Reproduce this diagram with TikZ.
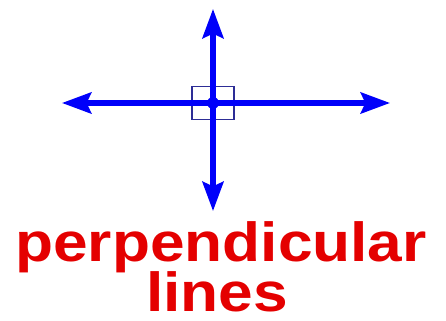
\documentclass[tikz,border=0pt]{standalone}
\usepackage{fontspec}
\setmainfont{Liberation Sans}
\usetikzlibrary{arrows.meta}
\definecolor{lineblue}{RGB}{0,0,250}
\definecolor{boxnavy}{RGB}{45,45,150}
\definecolor{labelred}{RGB}{228,0,0}

\begin{document}
\begin{tikzpicture}[
  x=0.03cm, y=-0.03cm,
  ray/.style={{Stealth[length=25pt,width=18pt,inset=4pt]}-{Stealth[length=25pt,width=18pt,inset=4pt]}, line width=4.3pt, draw=lineblue},
  rightbox/.style={draw=boxnavy, line width=1.1pt, minimum width=1.26cm, minimum height=0.99cm, inner sep=0pt},
  meet/.style={circle, fill=lineblue, minimum size=0.36cm, inner sep=0pt},
  word/.style={text=labelred, font=\fontsize{47}{50}\selectfont\bfseries, anchor=base, xscale=1.13, inner sep=0pt},
]
\useasboundingbox (0,0) rectangle (446,321);
% right-angle box at the crossing
\node[rightbox] (box) at (213,103) {};
% the two lines
\coordinate (west) at (62,103);
\coordinate (east) at (390,103);
\coordinate (north) at (213,9);
\coordinate (south) at (213,211);
\draw[ray] (west) -- (east);
\draw[ray] (north) -- (south);
\node[meet] (meet) at (213,103) {};
% caption
\node[word] (perp) at (221,262) {perpendicular};
\node[word] (lines) at (217,312) {lines};
\end{tikzpicture}
\end{document}
